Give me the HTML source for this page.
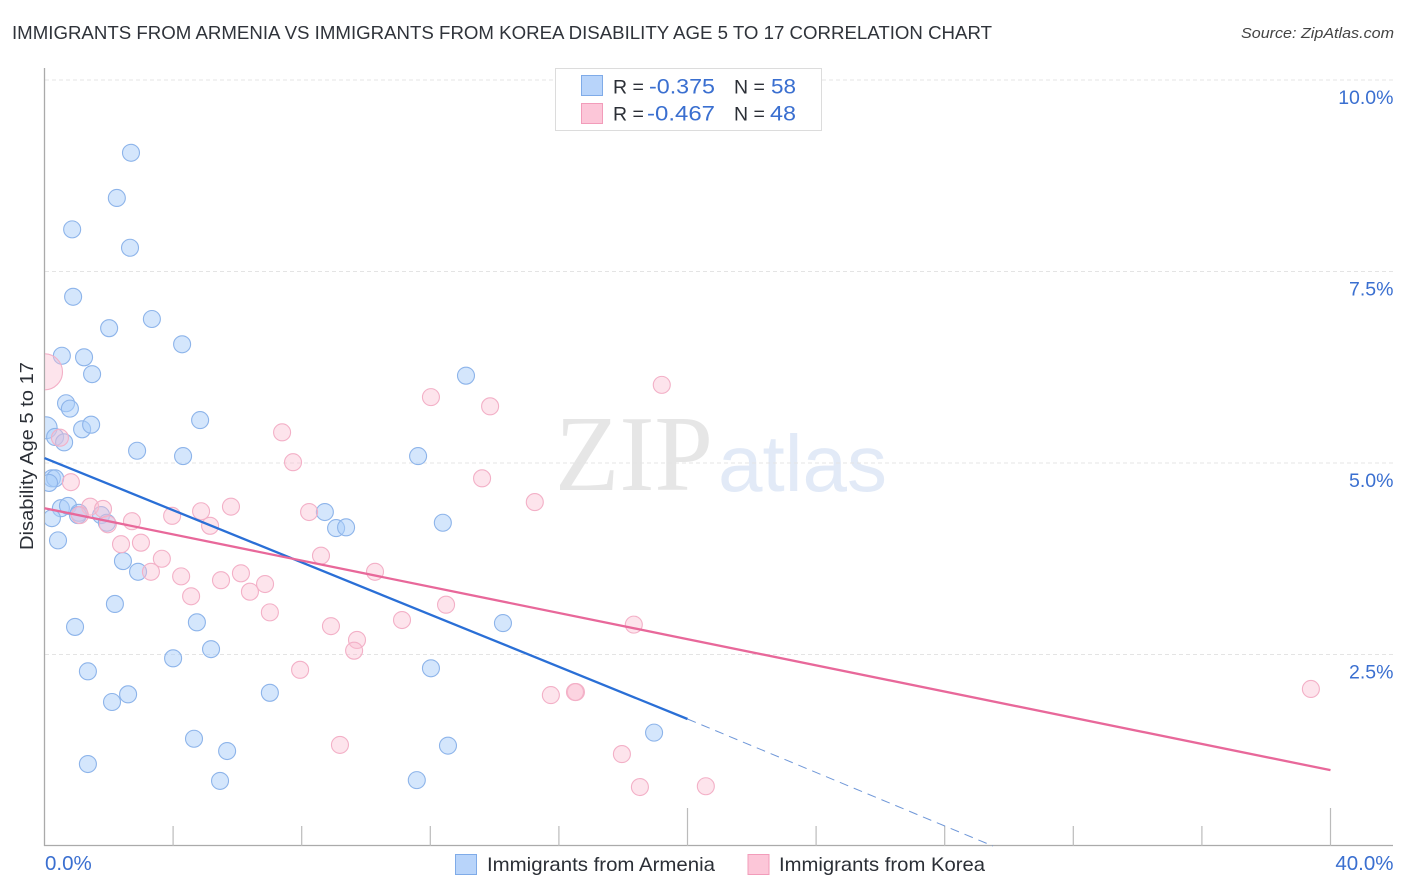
<!DOCTYPE html>
<html lang="en">
<head>
<meta charset="utf-8">
<title>Immigrants from Armenia vs Immigrants from Korea Disability Age 5 to 17 Correlation Chart</title>
<style>
html,body{margin:0;padding:0;background:#fff;width:1406px;height:892px;overflow:hidden}
svg{display:block}
text{font-family:"Liberation Sans",sans-serif}
.tick{fill:#3a6fd0;font-size:19.5px}
.xtick{fill:#3a6fd0;font-size:20.5px}
.dark{fill:#2b2f36}
.val{fill:#3a6fd0}
</style>
</head>
<body>
<svg id="chart" width="1406" height="892" viewBox="0 0 1406 892" xmlns="http://www.w3.org/2000/svg">
  <defs>
    <clipPath id="plot-clip"><rect x="45" y="60" width="1360" height="786"/></clipPath>
  </defs>
  <text x="12" y="39" font-size="18.5" fill="#2f333a" textLength="980" lengthAdjust="spacingAndGlyphs">IMMIGRANTS FROM ARMENIA VS IMMIGRANTS FROM KOREA DISABILITY AGE 5 TO 17 CORRELATION CHART</text>
  <text x="1241" y="38" font-size="15" font-style="italic" fill="#444" textLength="153" lengthAdjust="spacingAndGlyphs">Source: ZipAtlas.com</text>

  <g>
    <text x="555" y="490" font-size="108" fill="#e6e6e6" textLength="158" lengthAdjust="spacingAndGlyphs" style="font-family:'Liberation Serif',serif">ZIP</text>
    <text x="718" y="491" font-size="80" fill="#e2eaf7" textLength="169" lengthAdjust="spacingAndGlyphs">atlas</text>
  </g>

  <g id="grid"></g>
  <g id="axes"></g>
  <g id="points-armenia" clip-path="url(#plot-clip)"></g>
  <g id="points-korea" clip-path="url(#plot-clip)"></g>
  <g id="trends"></g>
  <g id="tick-labels"></g>

  <text transform="translate(33,550) rotate(-90)" font-size="18.5" class="dark" textLength="188" lengthAdjust="spacingAndGlyphs">Disability Age 5 to 17</text>

  <g>
    <rect x="555.5" y="68.5" width="266" height="62" fill="#fff" stroke="#dcdcdc" stroke-width="1"/>
    <rect x="581.5" y="75.5" width="21" height="20" fill="#b8d4fa" stroke="#7fabe8"/>
    <text x="613" y="93.5" font-size="19.5" class="dark">R =</text>
    <text x="649" y="93.5" font-size="21" class="val" textLength="66" lengthAdjust="spacingAndGlyphs">-0.375</text>
    <text x="734" y="93.5" font-size="19.5" class="dark">N =</text>
    <text x="771" y="93.5" font-size="21" class="val" textLength="25" lengthAdjust="spacingAndGlyphs">58</text>
    <rect x="581.5" y="103.5" width="21" height="20" fill="#fcc6d8" stroke="#f29cba"/>
    <text x="613" y="120.5" font-size="19.5" class="dark">R =</text>
    <text x="647" y="120.5" font-size="21" class="val" textLength="68" lengthAdjust="spacingAndGlyphs">-0.467</text>
    <text x="734" y="120.5" font-size="19.5" class="dark">N =</text>
    <text x="770" y="120.5" font-size="21" class="val" textLength="26" lengthAdjust="spacingAndGlyphs">48</text>
  </g>

  <g>
    <rect x="455.5" y="854.5" width="21" height="20" fill="#b8d4fa" stroke="#7fabe8"/>
    <text x="487" y="871" font-size="19.5" class="dark" textLength="228" lengthAdjust="spacingAndGlyphs">Immigrants from Armenia</text>
    <rect x="748" y="854.5" width="21" height="20" fill="#fcc6d8" stroke="#f29cba"/>
    <text x="779" y="871" font-size="19.5" class="dark" textLength="206" lengthAdjust="spacingAndGlyphs">Immigrants from Korea</text>
  </g>
</svg>
<script>
const armeniaX = [2.69,2.25,0.86,2.66,0.89,2.01,3.34,4.28,0.54,1.23,1.48,13.11,0.67,0.79,4.84,1.17,1.45,0.05,0.33,0.61,2.88,4.31,11.62,0.23,0.33,0.14,0.51,0.73,0.23,0.42,1.07,1.04,1.76,1.94,2.44,2.91,2.19,0.95,4.74,5.18,4.00,1.35,2.60,2.10,7.01,4.65,5.68,1.35,5.46,11.58,12.55,18.96,12.02,14.26,12.39,8.72,9.07,9.38];
const armeniaY = [9.05,8.46,8.05,7.81,7.17,6.76,6.88,6.55,6.40,6.38,6.16,6.14,5.78,5.71,5.56,5.44,5.50,5.46,5.34,5.27,5.16,5.09,5.09,4.80,4.80,4.74,4.41,4.44,4.28,3.99,4.35,4.32,4.32,4.22,3.72,3.58,3.16,2.86,2.92,2.57,2.45,2.28,1.98,1.88,2.00,1.40,1.24,1.07,0.85,0.86,1.31,1.48,2.32,2.91,4.22,4.36,4.15,4.16];
const koreaX = [0.00,12.02,13.86,19.20,7.39,7.73,13.61,15.25,0.48,0.82,1.42,1.82,1.97,1.10,2.72,3.97,4.87,5.15,5.80,2.38,3.00,3.65,3.31,4.25,5.49,6.11,4.56,6.39,6.86,7.01,8.23,8.60,10.28,8.91,9.72,9.63,11.12,12.49,18.33,7.95,15.75,16.53,16.50,9.19,17.96,18.52,20.57,39.39];
const koreaY = [6.19,5.86,5.74,6.02,5.40,5.01,4.80,4.49,5.33,4.75,4.43,4.40,4.20,4.32,4.24,4.31,4.37,4.18,4.43,3.94,3.96,3.75,3.58,3.52,3.47,3.56,3.26,3.32,3.42,3.05,4.36,3.79,3.58,2.87,2.69,2.55,2.95,3.15,2.89,2.30,1.97,2.01,2.01,1.32,1.20,0.77,0.78,2.05];
const armeniaTrendX = [0,20];
const armeniaTrendY = [5.065,1.658];
const armeniaExtendX = [20,29.5];
const armeniaExtendY = [1.658,0.0];
const koreaTrendX = [0,40];
const koreaTrendY = [4.41,0.99];
const yTicks = [2.5,5.0,7.5,10.0];
const yTickLabels = ['2.5%','5.0%','7.5%','10.0%'];
const xTicks = [0,4,8,12,16,20,24,28,32,36,40];
const xMajorTicks = [20,40];
const xEdgeLabels = ['0.0%','40.0%'];

const NS = 'http://www.w3.org/2000/svg';
function sx(v){ return 44.5 + v * 32.15; }
function sy(v){ return 846 - v * 76.6; }
function make(parent, tag, attrs){
  const el = document.createElementNS(NS, tag);
  for (const k in attrs) el.setAttribute(k, attrs[k]);
  document.getElementById(parent).appendChild(el);
  return el;
}

yTicks.forEach(function(t){
  const line = make('grid','line',{x1:45,x2:1393,y1:sy(t),y2:sy(t),stroke:'#e4e4e4','stroke-width':1,'stroke-dasharray':'4 3'});
  
  
});

const yAxis = make('axes','line',{x1:44.5,x2:44.5,y1:68,y2:846,stroke:'#aaa','stroke-width':1.3});


const xAxis = make('axes','line',{x1:44,x2:1393,y1:845.5,y2:845.5,stroke:'#aaa','stroke-width':1.3});


xTicks.slice(1).forEach(function(t){
  const top = xMajorTicks.indexOf(t) >= 0 ? 808 : 826;
  const tick = make('axes','line',{x1:sx(t),x2:sx(t),y1:top,y2:846,stroke:'#bbb','stroke-width':1.2});
  
  
});

armeniaX.forEach(function(v,i){
  const r = (v < 0.1) ? 11 : 8.5;
  const c = make('points-armenia','circle',{cx:sx(v),cy:sy(armeniaY[i]),r:r,fill:'rgba(170,205,250,0.5)',stroke:'#8db4ea','stroke-width':1.1});
  
  
});
koreaX.forEach(function(v,i){
  const r = (v < 0.1) ? 18 : 8.5;
  const c = make('points-korea','circle',{cx:sx(v),cy:sy(koreaY[i]),r:r,fill:'rgba(250,190,210,0.42)',stroke:'#f3b0c7','stroke-width':1.1});
  
  
});

const t1 = make('trends','line',{x1:sx(armeniaTrendX[0]),y1:sy(armeniaTrendY[0]),x2:sx(armeniaTrendX[1]),y2:sy(armeniaTrendY[1]),stroke:'#2a6fd6','stroke-width':2.3});


const t2 = make('trends','line',{x1:sx(armeniaExtendX[0]),y1:sy(armeniaExtendY[0]),x2:sx(armeniaExtendX[1]),y2:sy(armeniaExtendY[1]),stroke:'#6f97d8','stroke-width':1,'stroke-dasharray':'9 6'});


const t3 = make('trends','line',{x1:sx(koreaTrendX[0]),y1:sy(koreaTrendY[0]),x2:sx(koreaTrendX[1]),y2:sy(koreaTrendY[1]),stroke:'#e8689a','stroke-width':2.3});



yTicks.forEach(function(t,i){
  const lab = make('tick-labels','text',{x:1393.5,y:sy(t)+24,'text-anchor':'end','class':'tick'});
  
  
  lab.textContent = yTickLabels[i];
});
const x0 = make('tick-labels','text',{x:45,y:870,'class':'xtick'});


x0.textContent = xEdgeLabels[0];
const x1 = make('tick-labels','text',{x:1393.5,y:870,'text-anchor':'end','class':'xtick'});


x1.textContent = xEdgeLabels[1];
</script>
</body>
</html>
